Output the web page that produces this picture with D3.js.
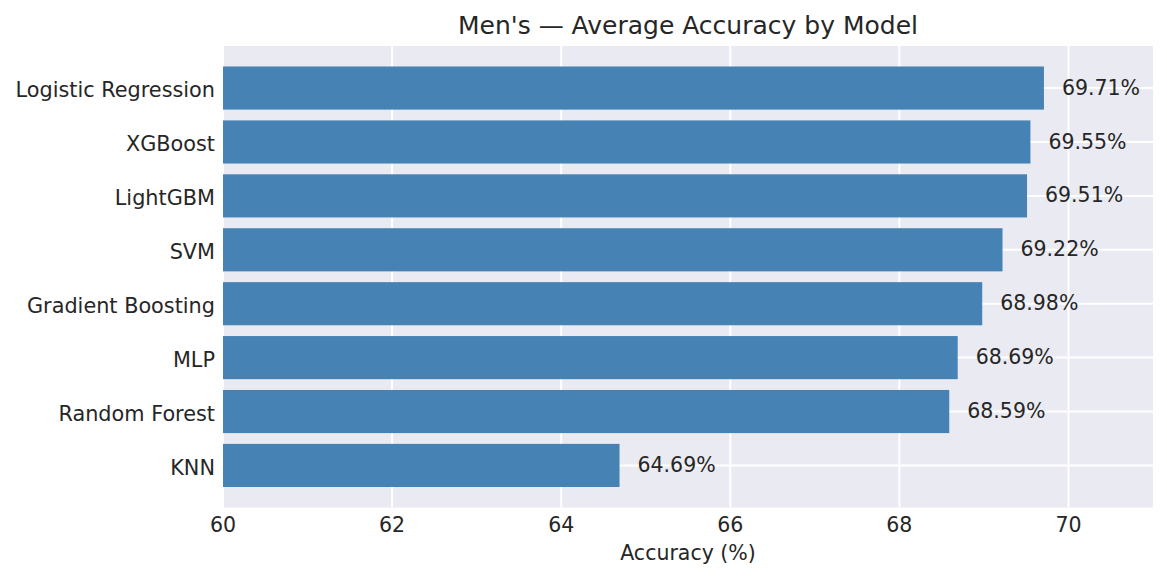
<!DOCTYPE html>
<html><head><meta charset="utf-8">
<script src="https://cdn.jsdelivr.net/npm/d3@7"></script>
<style>
body{margin:0;background:#fff;}
text{font-family:"DejaVu Sans",sans-serif;fill:#262626;}
</style></head><body>
<svg id="c" width="1167" height="579"></svg>
<script>
const models = ["Logistic Regression","XGBoost","LightGBM","SVM","Gradient Boosting","MLP","Random Forest","KNN"];
const accuracy = [69.71,69.55,69.51,69.22,68.98,68.69,68.59,64.69];
const xTicks = [60,62,64,66,68,70];
const title = "Men's \u2014 Average Accuracy by Model";
const xLabel = "Accuracy (%)";

const svg = d3.select("#c");
const L=223, R=1153, T=46, B=507.5;
const x = d3.scaleLinear().domain([60,71]).range([L,R]);
const yc = d3.scaleLinear().domain([-0.78,7.78]).range([T,B]);
const barH = yc(0.4)-yc(-0.4);

svg.append("rect").attr("x",L).attr("y",T).attr("width",R-L).attr("height",B-T).attr("fill","#EAEAF2");

// grid
svg.append("g").selectAll("line").data(xTicks).join("line")
  .attr("x1",d=>x(d)).attr("x2",d=>x(d)).attr("y1",T).attr("y2",B)
  .attr("stroke","#fff").attr("stroke-width",2);
svg.append("g").selectAll("line").data(models).join("line")
  .attr("x1",L).attr("x2",R).attr("y1",(d,i)=>yc(i)).attr("y2",(d,i)=>yc(i))
  .attr("stroke","#fff").attr("stroke-width",2);

// bars
svg.append("g").selectAll("rect").data(accuracy).join("rect")
  .attr("x",x(60)).attr("y",(d,i)=>yc(i)-barH/2)
  .attr("width",d=>x(d)-x(60)).attr("height",barH)
  .attr("fill","#4682B4");

// value labels
svg.append("g").selectAll("text").data(accuracy).join("text")
  .attr("x",d=>x(d)+18).attr("y",(d,i)=>yc(i)).attr("dy","0.32em")
  .attr("font-size",20.5).text(d=>d.toFixed(2)+"%");

// y tick labels
svg.append("g").selectAll("text").data(models).join("text")
  .attr("x",L-8).attr("y",(d,i)=>yc(i)).attr("dy","0.45em")
  .attr("text-anchor","end").attr("font-size",20.8).text(d=>d);

// x tick labels
svg.append("g").selectAll("text").data(xTicks).join("text")
  .attr("x",d=>x(d)).attr("y",532).attr("text-anchor","middle")
  .attr("font-size",20.5).text(d=>d);

svg.append("text").attr("x",(L+R)/2).attr("y",560).attr("text-anchor","middle")
  .attr("font-size",20.5).text(xLabel);
svg.append("text").attr("x",(L+R)/2).attr("y",34).attr("text-anchor","middle")
  .attr("font-size",25).text(title);
</script></body></html>
